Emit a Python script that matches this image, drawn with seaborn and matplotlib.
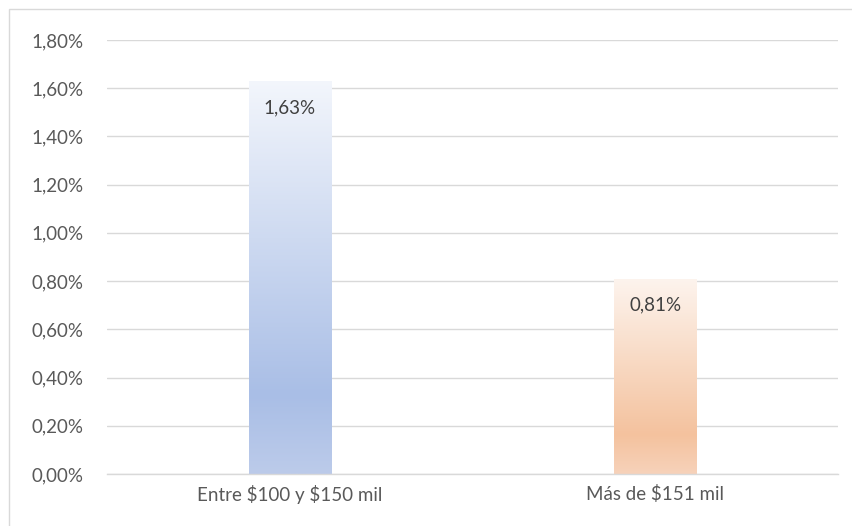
import numpy as np
import pandas as pd
import matplotlib
matplotlib.use('Agg')
import matplotlib.pyplot as plt
import seaborn as sns
from matplotlib.colors import to_rgb
from matplotlib.patches import Rectangle

# datos del gráfico
categorias = ['Entre \\$100 y \\$150 mil', 'Más de \\$151 mil']
valores = [1.63, 0.81]  # en %
etiquetas = ['1,63%', '0,81%']
ticks_y = [0.0, 0.2, 0.4, 0.6, 0.8, 1.0, 1.2, 1.4, 1.6, 1.8]

# degradados (arriba, 80%, abajo)
grad_azul = ['#f3f6fc', '#a9bee6', '#bccbea']
grad_naranja = ['#fdf4ee', '#f4c29e', '#f7d2ba']

sns.set_theme(style='white')
plt.rcParams['font.family'] = ['Lato', 'DejaVu Sans']

df = pd.DataFrame({'cat': categorias, 'val': valores})

fig = plt.figure(figsize=(8.53, 5.26), dpi=100)
ax = fig.add_axes([0.1254, 0.0989, 0.857, 0.8251])

sns.barplot(data=df, x='cat', y='val', ax=ax, width=0.225, color='#a9bee6', zorder=3)


def degradado(stops, n=256):
    t = np.linspace(0, 1, n)
    c = [np.array(to_rgb(s)) for s in stops]
    out = np.zeros((n, 1, 3))
    for i, tt in enumerate(t):
        if tt <= 0.8:
            f = tt / 0.8
            out[i, 0] = c[0] * (1 - f) + c[1] * f
        else:
            f = (tt - 0.8) / 0.2
            out[i, 0] = c[1] * (1 - f) + c[2] * f
    return out


for patch, stops, lab in zip(ax.patches, [grad_azul, grad_naranja], etiquetas):
    x0 = patch.get_x()
    w = patch.get_width()
    h = patch.get_height()
    img = ax.imshow(degradado(stops), extent=[x0, x0 + w, 0, h], aspect='auto',
                    origin='upper', zorder=3, interpolation='bilinear')
    img.set_clip_path(patch)
    patch.set_facecolor('none')
    patch.set_edgecolor('none')
    ax.text(x0 + w / 2, h - 0.11, lab, ha='center', va='center',
            fontsize=13.5, color='#404040', zorder=4)

ax.set_xlim(-0.5, 1.5)
ax.set_ylim(0, 1.8)
ax.set_yticks(ticks_y)
ax.set_yticklabels([f'{v:.2f}%'.replace('.', ',') for v in ticks_y])
ax.yaxis.grid(True, color='#d9d9d9', linewidth=1, zorder=0)
ax.set_axisbelow(True)
ax.set_xlabel('')
ax.set_ylabel('')
ax.tick_params(axis='both', length=0, labelsize=13.5, labelcolor='#595959')
ax.tick_params(axis='y', pad=17)
ax.tick_params(axis='x', pad=8)
for s in ['left', 'right', 'top']:
    ax.spines[s].set_visible(False)
ax.spines['bottom'].set_color('#d9d9d9')
ax.spines['bottom'].set_linewidth(1)
ax.spines['bottom'].set_zorder(5)

# borde exterior (solo visible arriba y a la izquierda)
fig.patches.append(Rectangle((8.5 / 853, -0.1), 1.1, 1.1 - 9.5 / 526, transform=fig.transFigure,
                             fill=False, edgecolor='#d9d9d9', linewidth=1))

fig.savefig('out.png', dpi=100)
